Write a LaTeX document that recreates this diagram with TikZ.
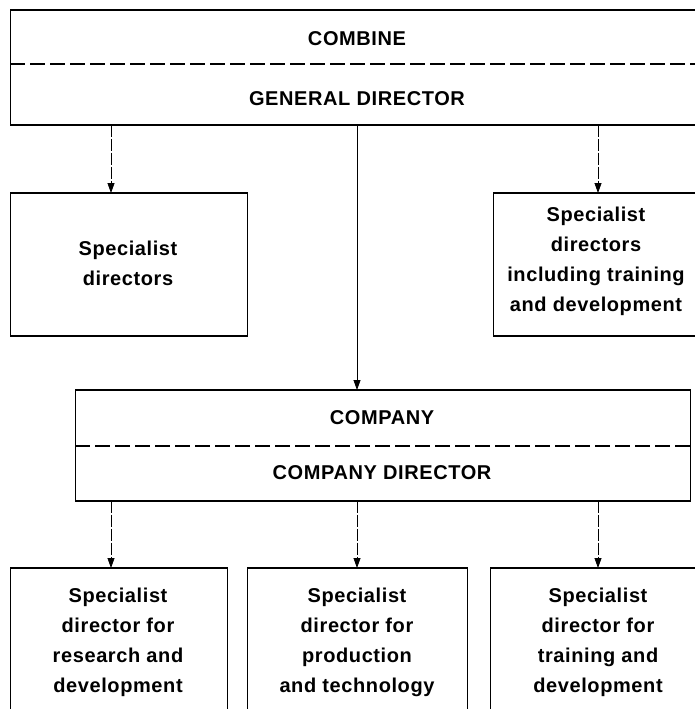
\documentclass[tikz,border=0pt]{standalone}
\usepackage{fontspec}
\setmainfont{Liberation Sans}[LetterSpace=3]
\usetikzlibrary{arrows.meta}
\begin{document}
\begin{tikzpicture}[x=1pt,y=-1pt,
  lbl/.style={font=\fontsize{20}{30}\selectfont\bfseries, align=center, inner sep=0pt},
  frame/.style={draw, line width=0.7pt, inner sep=0pt, anchor=north west},
  edge/.style={line width=1.6pt},
  divider/.style={line width=1.3pt, dash pattern=on 15pt off 5pt},
  link/.style={line width=0.8pt, -{Triangle[length=10pt,width=7pt]}},
  faint/.style={link, dash pattern=on 12pt off 2pt}]
\useasboundingbox (0,0) rectangle (695,709);
\clip (0,0) rectangle (695,709);
% boxes
\node[frame, minimum width=695pt, minimum height=114pt] (combine) at (10,10) {};
\node[frame, minimum width=237pt, minimum height=142pt] (sdl) at (10,193) {};
\node[frame, minimum width=210pt, minimum height=142pt] (sdr) at (493,193) {};
\node[frame, minimum width=615pt, minimum height=110pt] (company) at (75,390) {};
\node[frame, minimum width=217pt, minimum height=160pt] (b1) at (10,568) {};
\node[frame, minimum width=220pt, minimum height=160pt] (b2) at (247,568) {};
\node[frame, minimum width=215pt, minimum height=160pt] (b3) at (490,568) {};
% thick top and bottom edges
\foreach \n in {combine,sdl,sdr,company,b1,b2,b3}{
  \draw[edge] (\n.north west) -- (\n.north east);
  \draw[edge] (\n.south west) -- (\n.south east);
}
% dividers
\coordinate (cdiv) at (10,64);
\coordinate (kdiv) at (75,446);
\draw[divider] (cdiv) -- (cdiv -| combine.east);
\draw[divider] (kdiv) -- (kdiv -| company.east);
% texts
\node[lbl] (tcomb) at (357,39) {COMBINE};
\node[lbl] (tgen) at (357,99) {GENERAL DIRECTOR};
\node[lbl] (tsdl) at (128,263) {Specialist\\directors};
\node[lbl] (tsdr) at (596,261) {Specialist\\directors\\including training\\and development};
\node[lbl] (tcomp) at (382,418) {COMPANY};
\node[lbl] (tcdir) at (382,473) {COMPANY DIRECTOR};
\node[lbl] (tb1) at (118,642) {Specialist\\director for\\research and\\development};
\node[lbl] (tb2) at (357,642) {Specialist\\director for\\production\\and technology};
\node[lbl] (tb3) at (598,642) {Specialist\\director for\\training and\\development};
% connectors
\coordinate (al) at (111,193);
\coordinate (ar) at (598,193);
\coordinate (ac) at (357,390);
\coordinate (a1) at (111,568);
\coordinate (a2) at (357,568);
\coordinate (a3) at (598,568);
\draw[faint] (al |- combine.south) -- (al);
\draw[faint] (ar |- combine.south) -- (ar);
\draw[link] (ac |- combine.south) -- (ac);
\draw[faint] (a1 |- company.south) -- (a1);
\draw[faint] (a2 |- company.south) -- (a2);
\draw[faint] (a3 |- company.south) -- (a3);
\end{tikzpicture}
\end{document}
